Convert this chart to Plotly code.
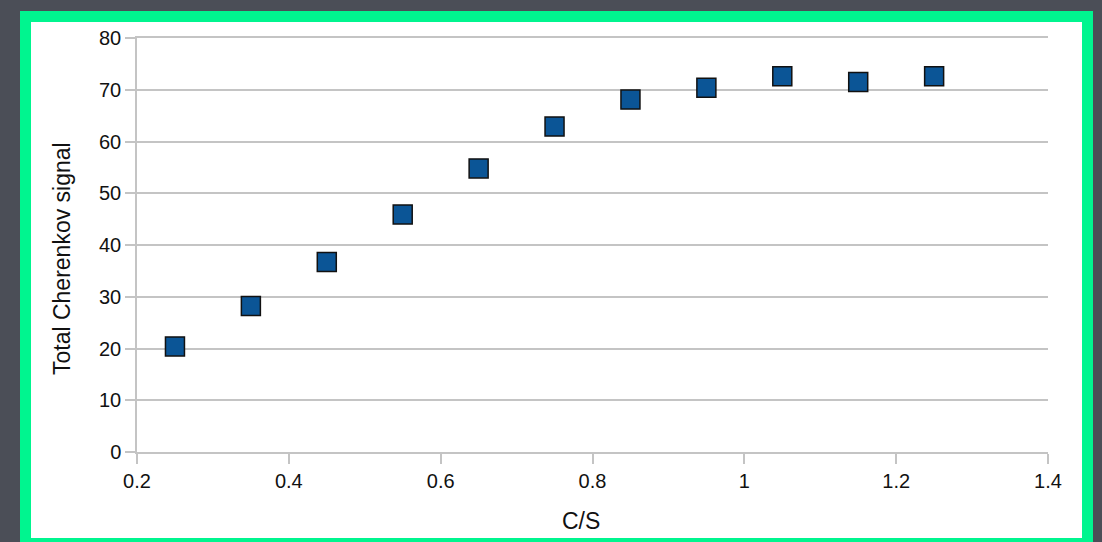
import plotly.graph_objects as go

# C/S ratio vs total Cherenkov signal
cs_ratio = [0.25, 0.35, 0.45, 0.55, 0.65, 0.75, 0.85, 0.95, 1.05, 1.15, 1.25]
cherenkov = [20.4, 28.2, 36.7, 45.9, 54.8, 62.9, 68.1, 70.4, 72.6, 71.5, 72.6]

W, H = 1102, 542
L, R, T, B = 137, 1048, 38, 452


def px(x):
    return (x - L) / (R - L)


def py(y):
    return (B - y) / (B - T)


fig = go.Figure()
fig.add_trace(
    go.Scatter(
        x=cs_ratio,
        y=cherenkov,
        mode="markers",
        marker=dict(
            symbol="square",
            size=19,
            color="#0b5596",
            line=dict(color="#111111", width=1.5),
        ),
        showlegend=False,
    )
)

# green frame and white card behind the chart
fig.add_shape(type="rect", xref="paper", yref="paper",
              x0=px(20), x1=px(1093), y0=py(560), y1=py(11),
              fillcolor="#00f58f", line_width=0, layer="below")
fig.add_shape(type="rect", xref="paper", yref="paper",
              x0=px(31), x1=px(1082), y0=py(538), y1=py(22),
              fillcolor="white", line_width=0, layer="below")

tick_font = dict(family="Liberation Sans, Arial, sans-serif", size=20, color="#111111")
title_font = dict(family="Liberation Sans, Arial, sans-serif", size=23, color="#111111")

# axis titles as annotations so they sit where the original puts them
fig.add_annotation(text="C/S", xref="paper", yref="paper",
                   x=px(581), y=py(521), xanchor="center", yanchor="middle",
                   showarrow=False, font=title_font)
fig.add_annotation(text="Total Cherenkov signal", xref="paper", yref="paper",
                   x=px(62), y=py(259), xanchor="center", yanchor="middle",
                   textangle=-90, showarrow=False, font=title_font)

fig.update_layout(
    width=W,
    height=H,
    margin=dict(l=L, r=W - R, t=T, b=H - B),
    paper_bgcolor="#4b4e57",
    plot_bgcolor="rgba(0,0,0,0)",
    font=tick_font,
    xaxis=dict(
        range=[0.2, 1.4],
        dtick=0.2,
        tick0=0.2,
        showgrid=False,
        zeroline=False,
        showline=True,
        linecolor="#c4c4c4",
        linewidth=1.5,
        mirror=True,
        ticks="outside",
        ticklen=10,
        tickcolor="#c4c4c4",
        tickwidth=1.5,
        tickfont=tick_font,
    ),
    yaxis=dict(
        range=[0, 80],
        dtick=10,
        showgrid=True,
        gridcolor="#c4c4c4",
        gridwidth=1.5,
        zeroline=False,
        showline=True,
        linecolor="#c4c4c4",
        linewidth=1.5,
        ticks="outside",
        ticklen=10,
        tickcolor="#c4c4c4",
        tickwidth=1.5,
        tickfont=tick_font,
    ),
)

fig.write_html(
    "out.html",
    config={"displayModeBar": False},
    post_script="document.body.style.margin='0';",
)
